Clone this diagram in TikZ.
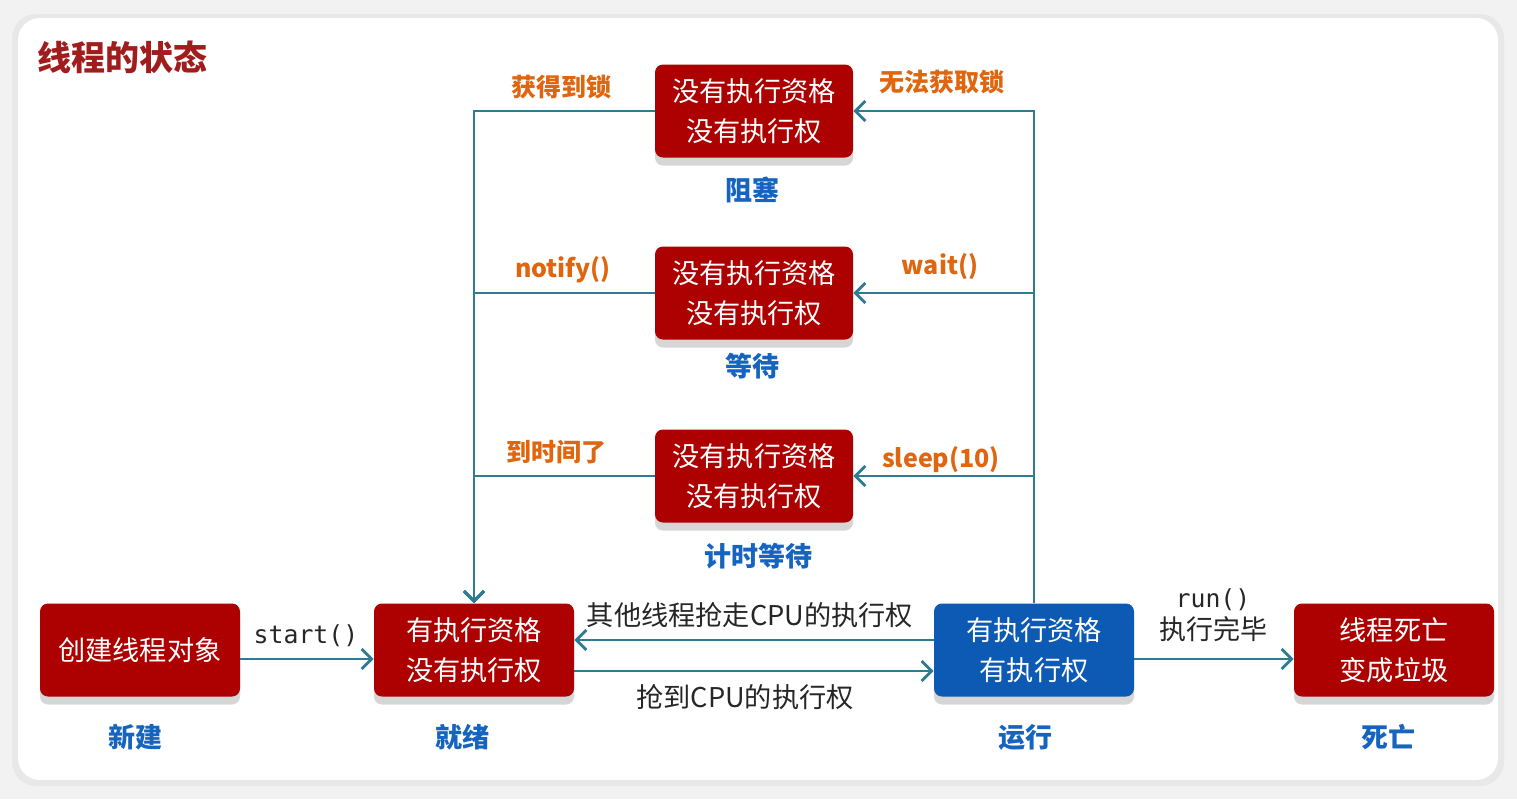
\documentclass[tikz,border=0pt]{standalone}
\usepackage{fontspec}
\setmainfont{Noto Sans CJK SC}
\setmonofont{DejaVu Sans Mono}
\usetikzlibrary{arrows.meta,shadows}
\definecolor{boxred}{HTML}{AD0000}
\definecolor{boxblue}{HTML}{0C5AB4}
\definecolor{linecol}{HTML}{2E7B93}
\definecolor{condorange}{HTML}{E0650F}
\definecolor{nameblue}{HTML}{1564C0}
\definecolor{titlered}{HTML}{A11C1C}
\begin{document}
\begin{tikzpicture}[x=0.5pt, y=-0.5pt, >={Straight Barb[length=5pt,width=10pt]},
  state/.style={rounded corners=4pt, minimum width=100pt, minimum height=46.5pt, text=white,
    align=center, font=\fontsize{13.6}{20}\selectfont,
    drop shadow={shadow xshift=0pt, shadow yshift=-4pt, fill=black!16, opacity=1}},
  redstate/.style={state, fill=boxred},
  bluestate/.style={state, fill=boxblue},
  statename/.style={text=nameblue, font=\fontsize{13.5}{16}\selectfont\bfseries},
  cond/.style={text=condorange, font=\fontsize{12.5}{15}\selectfont\bfseries},
  edgetext/.style={text=black!85, align=center, font=\fontsize{13.6}{16}\selectfont},
  trans/.style={draw=linecol, line width=1.4pt, ->}]
% background and card
\useasboundingbox (0,0) rectangle (1517,799);
\fill[black!5] (0,0) rectangle (1517,799);
\fill[black!9, rounded corners=12pt] (12,14) rectangle (1504,786);
\fill[white, rounded corners=11pt] (18,18) rectangle (1498,780);
\node[text=titlered, font=\fontsize{17}{20}\selectfont\bfseries] (title) at (123,57) {线程的状态};

% states
\node[redstate] (new) at (140,650) {创建线程对象};
\node[redstate] (ready) at (474,650) {有执行资格\\没有执行权};
\node[bluestate] (run) at (1034,650) {有执行资格\\有执行权};
\node[redstate] (dead) at (1394,650) {线程死亡\\变成垃圾};
\node[redstate, minimum width=99pt] (blocked) at (754,111) {没有执行资格\\没有执行权};
\node[redstate, minimum width=99pt] (waiting) at (754,293) {没有执行资格\\没有执行权};
\node[redstate, minimum width=99pt] (timed) at (754,476) {没有执行资格\\没有执行权};

% state names
\node[statename] (newname) at (135,737) {新建};
\node[statename] (readyname) at (462,737) {就绪};
\node[statename] (runname) at (1025,737) {运行};
\node[statename] (deadname) at (1388,737) {死亡};
\node[statename] (blockedname) at (752,190) {阻塞};
\node[statename] (waitingname) at (752,366) {等待};
\node[statename] (timedname) at (758,556) {计时等待};

% transitions
\draw[trans] ([yshift=-4.5pt]new.east) -- ([yshift=-4.5pt]ready.west);
\draw[trans] ([yshift=-10.5pt]ready.east) -- ([yshift=-10.5pt]run.west);
\draw[trans] ([yshift=5pt]run.west) -- ([yshift=5pt]ready.east);
\draw[trans] ([yshift=-4.5pt]run.east) -- ([yshift=-4.5pt]dead.west);
\draw[trans] (run.north) |- (blocked.east);
\draw[trans] (run.north) |- (waiting.east);
\draw[trans] (run.north) |- (timed.east);
\draw[trans] (blocked.west) -| (ready.north);
\draw[trans] (waiting.west) -| (ready.north);
\draw[trans] (timed.west) -| (ready.north);

% transition texts
\node[edgetext, font=\fontsize{12.4}{15}\ttfamily] (startlbl) at (306,636) {start()};
\node[edgetext] (loselbl) at (750,615) {其他线程抢走CPU的执行权};
\node[edgetext] (getlbl) at (745,697) {抢到CPU的执行权};
\node[edgetext, font=\fontsize{13.5}{16}\selectfont] (runlbl) at (1213,615) {{\fontsize{12.4}{15}\ttfamily run()}\\执行完毕};
\node[cond] (locklbl) at (561,87) {获得到锁};
\node[cond] (nolocklbl) at (942,82) {无法获取锁};
\node[cond] (notifylbl) at (563,270) {notify()};
\node[cond] (waitlbl) at (940,267) {wait()};
\node[cond] (timeuplbl) at (556,452) {到时间了};
\node[cond] (sleeplbl) at (941,460) {sleep(10)};
\end{tikzpicture}
\end{document}
